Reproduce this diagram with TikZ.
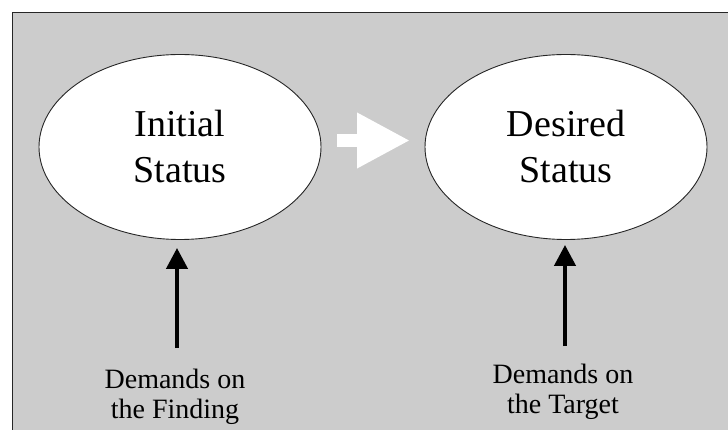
\documentclass[tikz,border=0pt]{standalone}
\usepackage{fontspec}
\setmainfont{Liberation Serif}
\usetikzlibrary{shapes.geometric,arrows.meta}
\definecolor{panelgray}{HTML}{CCCCCC}
\tikzset{
  status/.style={ellipse, draw=black!85, line width=0.9pt, fill=white,
    minimum width=282pt, minimum height=185pt, inner sep=0pt, align=center,
    font=\fontsize{38}{46}\selectfont},
  demand/.style={align=center, inner sep=0pt, font=\fontsize{28}{30}\selectfont},
  uparrow/.style={line width=4.3pt, black, -{Triangle[width=21pt,length=21pt]}},
  flowarrow/.style={line width=13pt, white, -{Triangle[width=52pt,length=53pt]}}
}
\begin{document}
\begin{tikzpicture}[x=1pt,y=-1pt]
  \useasboundingbox (0,0) rectangle (728,430);
  \fill[white] (0,0) rectangle (728,430);
  \clip (0,0) rectangle (728,430);
  % grey panel, framed on the top and left edges
  \filldraw[fill=panelgray, draw=black!85, line width=1.5pt] (12.5,12.5) rectangle (745,445);

  % the two states
  \node[status] (init) at (180,147) {Initial\\Status};
  \node[status] (goal) at (566,147) {Desired\\Status};

  % the demands below them
  \node[demand] (findq) at (175,396.5) {Demands on\\the Finding};
  \node[demand] (targq) at (563,391.5) {Demands on\\the Target};

  % transition between the states
  \coordinate (wA) at (337,140.5);
  \coordinate (wB) at (410,140.5);
  \draw[flowarrow] (wA) -- (wB);

  % demands point up to their states
  \coordinate (fA) at (177,348);
  \coordinate (tA) at (565,346);
  \draw[uparrow, shorten >=8pt] (fA) -- (fA |- init.south);
  \draw[uparrow, shorten >=5pt] (tA) -- (tA |- goal.south);
\end{tikzpicture}
\end{document}
